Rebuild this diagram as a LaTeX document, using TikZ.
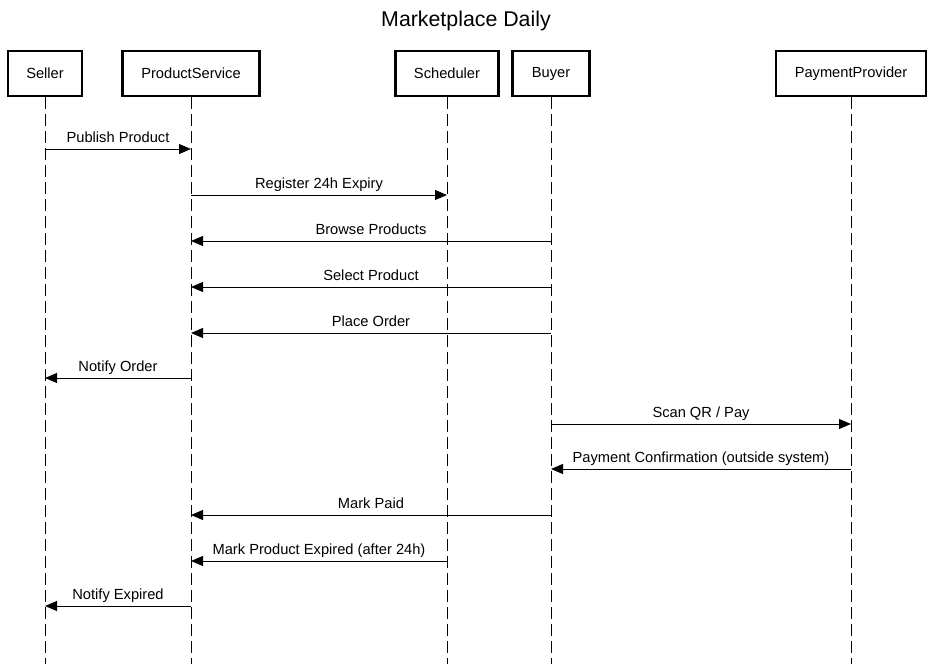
\documentclass[tikz,border=0pt]{standalone}
\usepackage{fontspec}
\setmainfont{Liberation Sans}
\usetikzlibrary{arrows.meta,positioning}
\tikzset{>={Triangle[length=9pt,width=7.5pt]}}
\colorlet{penColor}{black}
\tikzset{
  actor/.style={draw=penColor,line width=1.6pt,fill=white,minimum height=33.75pt,inner sep=0pt,font=\fontsize{11pt}{13pt}\selectfont},
  lifeline/.style={penColor,line width=0.75pt,dash pattern=on 9pt off 3.75pt},
  msg/.style={->,penColor,line width=0.75pt},
  msglabel/.style={anchor=base,yshift=5.25pt,inner sep=0pt,font=\fontsize{11pt}{13pt}\selectfont}
}

\begin{document}
\begin{tikzpicture}[x=0.75pt,y=-0.75pt]
  \useasboundingbox (0,0) rectangle (933,664);
  \node[anchor=base,font=\fontsize{16pt}{18pt}\selectfont] (title) at (466,26) {Marketplace Daily};
  % participants
  \node[actor,minimum width=55.5pt] (seller) at (45,73.5) {Seller};
  \node[actor,minimum width=102.75pt] (product) at (191,73.5) {ProductService};
  \node[actor,minimum width=77.25pt] (scheduler) at (447,73.5) {Scheduler};
  \node[actor,minimum width=57.75pt] (buyer) at (551,73.5) {Buyer};
  \node[actor,minimum width=112.5pt] (payment) at (851,73.5) {PaymentProvider};
  % lifelines
  \coordinate (sellerEnd) at (45,664);
  \coordinate (productEnd) at (191,664);
  \coordinate (schedulerEnd) at (447,664);
  \coordinate (buyerEnd) at (551,664);
  \coordinate (paymentEnd) at (851,664);
  \draw[lifeline] (seller.south) -- (sellerEnd);
  \draw[lifeline] (product.south) -- (productEnd);
  \draw[lifeline] (scheduler.south) -- (schedulerEnd);
  \draw[lifeline] (buyer.south) -- (buyerEnd);
  \draw[lifeline] (payment.south) -- (paymentEnd);
  % messages
  \draw[msg] (seller |- 0,149) -- node[msglabel] {Publish Product} (product |- 0,149);
  \draw[msg] (product |- 0,195) -- node[msglabel] {Register 24h Expiry} (scheduler |- 0,195);
  \draw[msg] (buyer |- 0,241) -- node[msglabel] {Browse Products} (product |- 0,241);
  \draw[msg] (buyer |- 0,287) -- node[msglabel] {Select Product} (product |- 0,287);
  \draw[msg] (buyer |- 0,333) -- node[msglabel] {Place Order} (product |- 0,333);
  \draw[msg] (product |- 0,378) -- node[msglabel] {Notify Order} (seller |- 0,378);
  \draw[msg] (buyer |- 0,424) -- node[msglabel] {Scan QR / Pay} (payment |- 0,424);
  \draw[msg] (payment |- 0,469) -- node[msglabel] {Payment Confirmation (outside system)} (buyer |- 0,469);
  \draw[msg] (buyer |- 0,515) -- node[msglabel] {Mark Paid} (product |- 0,515);
  \draw[msg] (scheduler |- 0,561) -- node[msglabel] {Mark Product Expired (after 24h)} (product |- 0,561);
  \draw[msg] (product |- 0,606) -- node[msglabel] {Notify Expired} (seller |- 0,606);
\end{tikzpicture}
\end{document}
